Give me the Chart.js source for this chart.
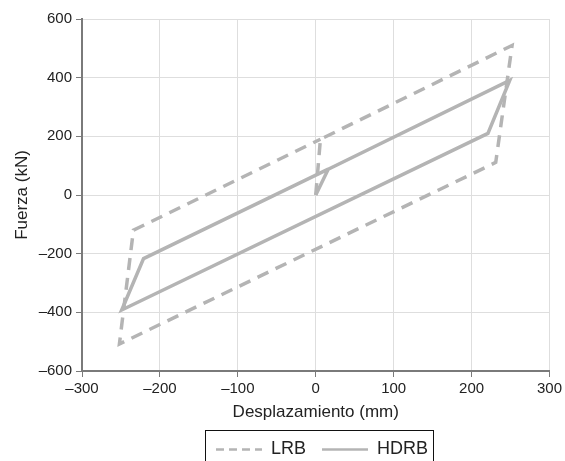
<!DOCTYPE html>
<html>
<head>
<meta charset="utf-8">
<script src="https://cdn.jsdelivr.net/npm/chart.js@4"></script>
<style>
  html, body { margin: 0; padding: 0; background: #fff; }
  #wrap { width: 565px; height: 461px; }
</style>
</head>
<body>
<div id="wrap"><canvas id="hysteresis" width="565" height="461"></canvas></div>
<script>
// hysteresis loops (mm, kN)
const lrbDisp  = [0, 6, 252, 231, -252, -234, 6];
const lrbForce = [0, 190, 510, 111, -508, -120, 190];
const hdrbDisp  = [0, 16, 249, 221, -249, -221, 16];
const hdrbForce = [0, 88, 391, 210, -392, -217, 88];

const xTicks = [-300, -200, -100, 0, 100, 200, 300];
const yTicks = [-600, -400, -200, 0, 200, 400, 600];

const seriesNames = ['LRB', 'HDRB'];

const toPoints = (xs, ys) => xs.map((x, i) => ({ x: x, y: ys[i] }));
const fmt = v => (v < 0 ? '\u2013' + Math.abs(v) : String(v));

const lineGrey = 'rgb(180, 180, 180)';
const axisGrey = '#7a7a7a';
const gridGrey = '#dedede';
const textCol = '#222';

// moves the legend under the plot and draws the box around it
const legendFrame = {
  id: 'legendFrame',
  afterLayout(chart) {
    const lg = chart.legend;
    const pad = lg.options.labels.padding;
    const lw = lg.lineWidths[0];
    const start = (lg.left + pad + lg.right - lw) / 2;
    const mid = start + (lw - pad) / 2;
    const dx = 322 - mid;
    const dy = 449.5 - (lg.top + pad + 9);
    lg.left += dx; lg.right += dx;
    lg.top += dy; lg.bottom += dy;
  },
  afterDraw(chart) {
    const boxes = chart.legend.legendHitBoxes;
    if (!boxes || !boxes.length) return;
    const first = boxes[0];
    const last = boxes[boxes.length - 1];
    const ctx = chart.ctx;
    const cy = first.top + first.height / 2;
    ctx.save();
    ctx.strokeStyle = '#111';
    ctx.lineWidth = 1;
    ctx.strokeRect(Math.round(first.left - 11) + 0.5, Math.round(cy - 20) + 0.5,
      Math.round(last.left + last.width + 5 - (first.left - 11)), 40);
    ctx.restore();
  }
};

new Chart(document.getElementById('hysteresis'), {
  type: 'line',
  data: {
    datasets: [{
      label: seriesNames[0],
      data: toPoints(lrbDisp, lrbForce),
      borderColor: lineGrey,
      borderWidth: 3.5,
      borderDash: [12, 8],
      pointRadius: 0,
      fill: false,
      tension: 0
    }, {
      label: seriesNames[1],
      data: toPoints(hdrbDisp, hdrbForce),
      borderColor: lineGrey,
      borderWidth: 3.5,
      pointRadius: 0,
      fill: false,
      tension: 0
    }]
  },
  options: {
    responsive: false,
    animation: false,
    layout: { padding: { left: 0, right: 12, top: 19, bottom: 0 } },
    scales: {
      x: {
        type: 'linear',
        min: -300,
        max: 300,
        afterBuildTicks: s => { s.ticks = xTicks.map(v => ({ value: v })); },
        afterFit: s => { s.height = 46; },
        ticks: {
          callback: fmt,
          color: textCol,
          font: { family: 'Liberation Sans, Arial, sans-serif', size: 15 },
          padding: 3,
          maxRotation: 0
        },
        grid: { color: gridGrey, tickColor: axisGrey, tickLength: 6 },
        border: { color: axisGrey, width: 2 },
        title: {
          display: true,
          text: 'Desplazamiento (mm)',
          color: textCol,
          font: { family: 'Liberation Sans, Arial, sans-serif', size: 17 },
          padding: { top: 0, bottom: -6 }
        }
      },
      y: {
        type: 'linear',
        min: -600,
        max: 600,
        afterBuildTicks: s => { s.ticks = yTicks.map(v => ({ value: v })); },
        afterFit: s => { s.width = 82; },
        ticks: {
          callback: fmt,
          color: textCol,
          font: { family: 'Liberation Sans, Arial, sans-serif', size: 15 },
          padding: 4
        },
        grid: { color: gridGrey, tickColor: axisGrey, tickLength: 6 },
        border: { color: axisGrey, width: 2 },
        title: {
          display: true,
          text: 'Fuerza (kN)',
          color: textCol,
          font: { family: 'Liberation Sans, Arial, sans-serif', size: 17 },
          padding: { top: 12, bottom: 0 }
        }
      }
    },
    plugins: {
      tooltip: { enabled: false },
      legend: {
        position: 'bottom',
        labels: {
          usePointStyle: true,
          pointStyle: 'line',
          pointStyleWidth: 46,
          padding: 16,
          color: textCol,
          font: { family: 'Liberation Sans, Arial, sans-serif', size: 18 },
          generateLabels: chart => Chart.defaults.plugins.legend.labels.generateLabels(chart).map(item => {
            // point style items carry no dash, take it from the dataset
            item.lineDash = item.datasetIndex === 0 ? [8, 5] : [];
            item.strokeStyle = lineGrey;
            item.lineWidth = 2.5;
            return item;
          })
        }
      }
    }
  },
  plugins: [legendFrame]
});
</script>
</body>
</html>
